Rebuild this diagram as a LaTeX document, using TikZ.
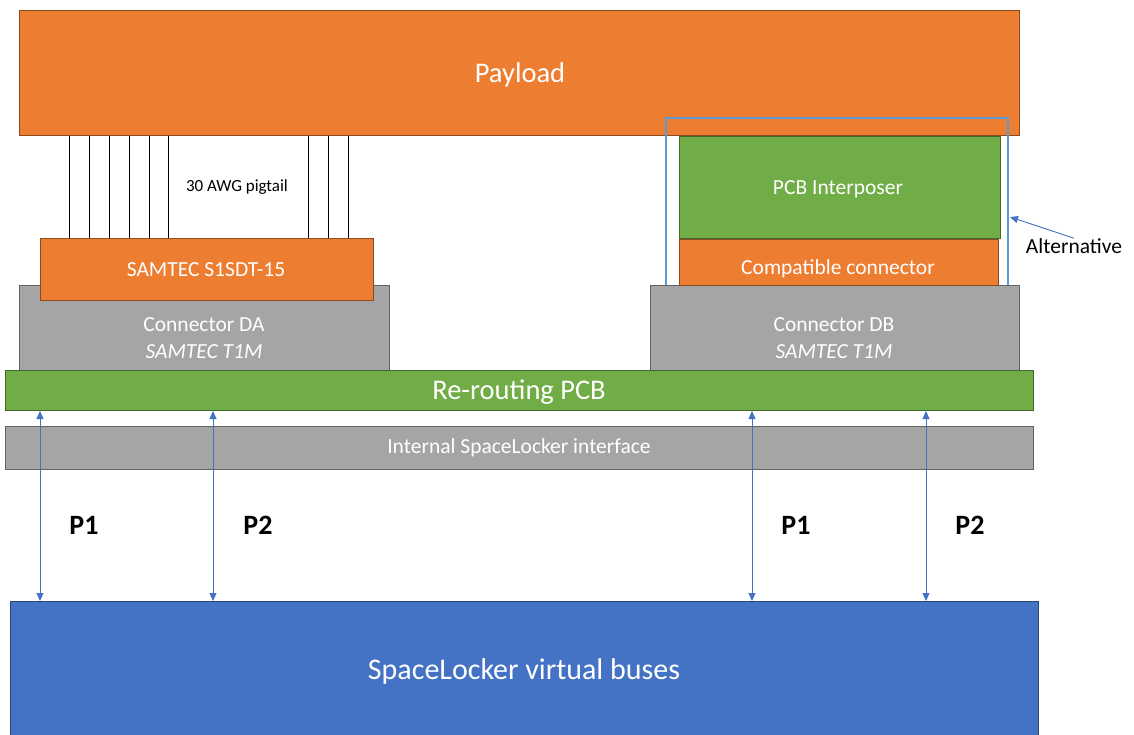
\documentclass[tikz,border=0pt]{standalone}
\usepackage{fontspec}
\setmainfont{Carlito}
\usetikzlibrary{arrows.meta}
\definecolor{orng}{HTML}{ED7D31}
\definecolor{grn}{HTML}{70AD47}
\definecolor{gry}{HTML}{A5A5A5}
\definecolor{blu}{HTML}{4472C4}
\definecolor{lblu}{HTML}{5B9BD5}
\begin{document}
\begin{tikzpicture}[x=1pt,y=-1pt,
  blk/.style={draw=#1!60!black, fill=#1, line width=1pt, inner sep=0pt, anchor=north west},
  wtxt/.style={text=white, inner sep=0pt, align=center},
  ktxt/.style={text=black, inner sep=0pt, align=center},
  big/.style={font=\fontsize{28.5}{34}\selectfont},
  mid/.style={font=\fontsize{21.5}{27}\selectfont},
  pfont/.style={font=\fontsize{28}{34}\selectfont\bfseries},
  wire/.style={draw=black, line width=1pt},
  bus/.style={draw=blu, line width=0.9pt, {Triangle[length=8pt,width=7pt]}-{Triangle[length=8pt,width=7pt]}},
  altline/.style={draw=lblu, line width=1.5pt},
  altarrow/.style={draw=blu, line width=0.9pt, -{Triangle[length=8pt,width=7pt]}}]
\useasboundingbox (0,0) rectangle (1134,735);
% payload
\node[blk=orng, minimum width=1000pt, minimum height=125pt] (payload) at (19,10) {};
\node[wtxt, big] (payloadtxt) at (520,75) {Payload};
% alternative outline
\coordinate (obl) at (666,285);
\coordinate (obr) at (1008,285);
\draw[altline] (obl) -- (666,118) -- (1008,118) -- (obr);
\coordinate (altend) at (1010,217);
% connector DA side
\node[blk=gry, minimum width=370pt, minimum height=85pt] (da) at (19,285) {};
\node[blk=orng, minimum width=333pt, minimum height=62pt] (samtec) at (40,238) {};
\foreach \x in {69,89,109,129,149,168,308,328,348}
  \draw[wire] (\x,0 |- payload.south) -- (\x,0 |- samtec.north);
\node[ktxt, font=\fontsize{17}{20}\selectfont] (pig) at (237,187) {30 AWG pigtail};
\node[wtxt, mid] (samtectxt) at (206,270) {SAMTEC S1SDT-15};
\node[wtxt, mid] (datxt) at (204,338) {Connector DA\\\textit{SAMTEC T1M}};
% connector DB side
\node[blk=gry, minimum width=369pt, minimum height=85pt] (db) at (650,285) {};
\node[blk=orng, minimum width=319pt, minimum height=46pt] (compat) at (679,239) {};
\node[blk=grn, minimum width=321pt, minimum height=102pt] (interp) at (679,136) {};
\node[wtxt, mid] (interptxt) at (838,189) {PCB Interposer};
\node[wtxt, mid] (compattxt) at (838,269) {Compatible connector};
\node[wtxt, mid] (dbtxt) at (834,338) {Connector DB\\\textit{SAMTEC T1M}};
% alternative label
\node[ktxt, mid] (alt) at (1074,246) {Alternative};
\draw[altarrow] (alt.north) -- (altend);
% PCB and interface
\node[blk=grn, minimum width=1028pt, minimum height=40pt] (pcb) at (5,370) {};
\node[wtxt, big] (pcbtxt) at (519,392) {Re-routing PCB};
\node[blk=gry, minimum width=1028pt, minimum height=43pt] (iface) at (5,426) {};
\node[wtxt, font=\fontsize{21.5}{26}\selectfont] (ifacetxt) at (519,448) {Internal SpaceLocker interface};
% buses
\node[blk=blu, minimum width=1028pt, minimum height=150pt] (buses) at (10,601) {};
\node[wtxt, font=\fontsize{30}{35}\selectfont] (busestxt) at (524,671) {SpaceLocker virtual buses};
% arrows
\foreach \x in {40,213,752,926}
  \draw[bus] (\x,0 |- pcb.south) -- (\x,0 |- buses.north);
\node[ktxt, pfont] (p1a) at (84,525) {P1};
\node[ktxt, pfont] (p2a) at (258,525) {P2};
\node[ktxt, pfont] (p1b) at (796,525) {P1};
\node[ktxt, pfont] (p2b) at (970,525) {P2};
\end{tikzpicture}
\end{document}
